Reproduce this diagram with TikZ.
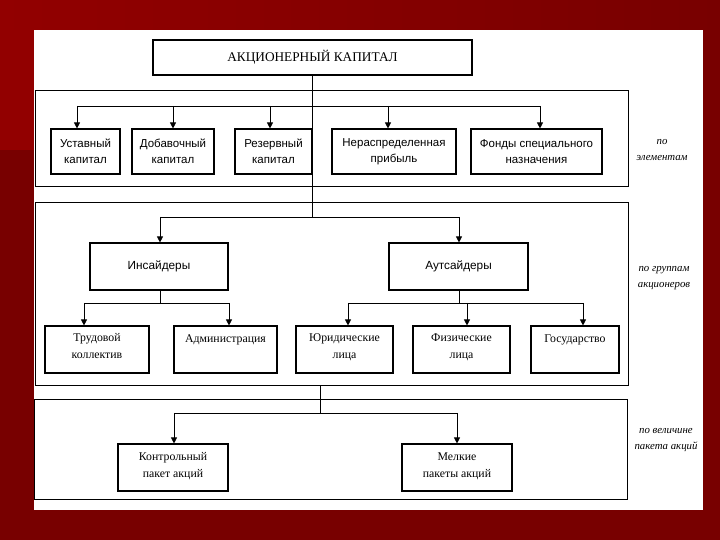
\documentclass[tikz,border=0pt]{standalone}
\usepackage{fontspec}
\setmainfont{Liberation Serif}
\newfontfamily\arialf{Liberation Sans}
\usetikzlibrary{arrows.meta}
\definecolor{bgdark}{HTML}{780000}
\definecolor{bglight}{HTML}{920000}
\begin{document}
\begin{tikzpicture}[x=1pt,y=1pt,
  secbox/.style={draw=black,line width=0.9pt,fill=white,inner sep=0pt},
  box/.style={draw=black,line width=1.1pt,fill=white,inner sep=0pt,align=center},
  sansbox/.style={box,font=\arialf\fontsize{11.5}{16}\selectfont},
  serifbox/.style={box,font=\fontsize{11.5}{17}\selectfont},
  boxtext/.style={inner sep=0pt,align=center,anchor=north,font=\fontsize{11.8}{17}\selectfont},
  side/.style={inner sep=0pt,align=center,font=\itshape\fontsize{10.8}{15.5}\selectfont},
  conn/.style={draw=black,line width=0.8pt},
  arr/.style={conn,-{Triangle[length=6pt,width=6pt]}}]
\useasboundingbox (0,0) rectangle (720,540);
% background
\fill[bgdark] (0,0) rectangle (720,540);
\shade[left color=bglight,right color=bgdark] (0,510) rectangle (720,540);
\fill[bglight] (0,390) rectangle (34,510);
\fill[white] (34,30) rectangle (703,510);

% sections
\node[secbox,minimum width=593pt,minimum height=96pt] (sec1) at (331.5,402) {};
\node[secbox,minimum width=593pt,minimum height=183pt] (sec2) at (331.5,246.5) {};
\node[secbox,minimum width=593pt,minimum height=100pt] (sec3) at (330.5,91) {};

% title
\node[box,minimum width=319pt,minimum height=35pt,font=\fontsize{13.3}{16}\selectfont] (top) at (312.5,482.5) {АКЦИОНЕРНЫЙ КАПИТАЛ};

% bus coordinates
\coordinate (b1) at (312,434);
\coordinate (b2) at (312,323);
\draw[conn] (b1 |- top.south) -- (b2);

% row 1
\node[sansbox,minimum width=69pt,minimum height=45pt] (ust) at (85.5,388.5) {Уставный\\капитал};
\node[sansbox,minimum width=82pt,minimum height=45pt] (dob) at (173,388.5) {Добавочный\\капитал};
\node[sansbox,minimum width=77pt,minimum height=45pt] (rez) at (273.5,388.5) {Резервный\\капитал};
\node[sansbox,minimum width=124pt,minimum height=45pt] (ner) at (394,388.5) {Нераспределенная\\прибыль};
\node[sansbox,minimum width=131pt,minimum height=45pt] (fond) at (536.5,388.5) {Фонды специального\\назначения};
\coordinate (a1) at (77,434);
\coordinate (a5) at (540,434);
\draw[conn] (a1) -- (a5);
\draw[arr] (a1) -- (a1 |- ust.north);
\draw[arr] (173,434) -- (dob.north);
\draw[arr] (270,434) -- (270,0 |- rez.north);
\draw[arr] (388,434) -- (388,0 |- ner.north);
\draw[arr] (a5) -- (a5 |- fond.north);
\node[side] (lab1) at (662,390) {по\\элементам};

% row 2
\node[sansbox,minimum width=138pt,minimum height=47pt,font=\arialf\fontsize{11.8}{14}\selectfont] (ins) at (159,273.5) {Инсайдеры};
\node[sansbox,minimum width=139pt,minimum height=47pt,font=\arialf\fontsize{11.8}{14}\selectfont] (aut) at (458.5,273.5) {Аутсайдеры};
\coordinate (c1) at (160,323);
\coordinate (c2) at (459,323);
\draw[conn] (c1) -- (c2);
\draw[arr] (c1) -- (c1 |- ins.north);
\draw[arr] (c2) -- (c2 |- aut.north);
\node[side] (lab2) at (664,262) {по группам\\акционеров};

% row 3
\node[serifbox,minimum width=104pt,minimum height=47pt] (trud) at (97,190.5) {};
\node[serifbox,minimum width=103pt,minimum height=47pt] (adm) at (225.5,190.5) {};
\node[serifbox,minimum width=97pt,minimum height=47pt] (yur) at (344.5,190.5) {};
\node[serifbox,minimum width=97pt,minimum height=47pt] (fiz) at (461.5,190.5) {};
\node[serifbox,minimum width=88pt,minimum height=47pt] (gos) at (575,190.5) {};
\node[boxtext] (trudt) at ([yshift=-8pt]trud.north) {Трудовой\\коллектив};
\node[boxtext] (admt) at ([yshift=-9pt]adm.north) {Администрация};
\node[boxtext] (yurt) at ([yshift=-8pt]yur.north) {Юридические\\лица};
\node[boxtext] (fizt) at ([yshift=-8pt]fiz.north) {Физические\\лица};
\node[boxtext] (gost) at ([yshift=-9pt]gos.north) {Государство};
\coordinate (d1) at (160,237);
\coordinate (d2) at (459,237);
\draw[conn] (d1 |- ins.south) -- (d1);
\draw[conn] (d2 |- aut.south) -- (d2);
\draw[conn] (84,237) -- (229,237);
\draw[conn] (348,237) -- (583,237);
\draw[arr] (84,237) -- (84,0 |- trud.north);
\draw[arr] (229,237) -- (229,0 |- adm.north);
\draw[arr] (348,237) -- (348,0 |- yur.north);
\draw[arr] (467,237) -- (467,0 |- fiz.north);
\draw[arr] (583,237) -- (583,0 |- gos.north);

% row 4
\coordinate (e0) at (320,127);
\draw[conn] (sec2.south -| e0) -- (e0);
\node[serifbox,minimum width=110pt,minimum height=47pt] (kont) at (173,72.5) {};
\node[serifbox,minimum width=110pt,minimum height=47pt] (mel) at (457,72.5) {};
\node[boxtext] (kontt) at ([yshift=-9pt]kont.north) {Контрольный\\пакет акций};
\node[boxtext] (melt) at ([yshift=-9pt]mel.north) {Мелкие\\пакеты акций};
\coordinate (e1) at (174,127);
\coordinate (e2) at (457,127);
\draw[conn] (e1) -- (e2);
\draw[arr] (e1) -- (e1 |- kont.north);
\draw[arr] (e2) -- (e2 |- mel.north);
\node[side] (lab3) at (666,100) {по величине\\пакета акций};
\end{tikzpicture}
\end{document}
